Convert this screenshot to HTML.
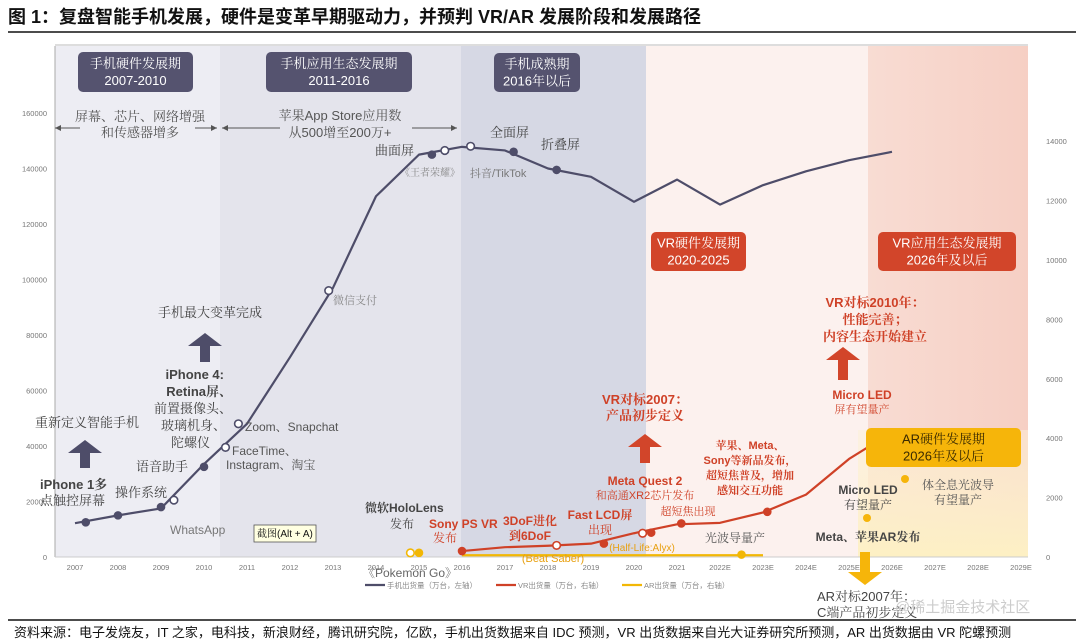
<!DOCTYPE html>
<html><head><meta charset="utf-8">
<style>
html,body{margin:0;padding:0;background:#fff;}
svg{display:block;font-family:"Liberation Sans","Noto Sans CJK SC",sans-serif;}
.sf{font-family:"Liberation Sans","Noto Serif CJK SC",serif;}
</style></head>
<body>
<svg id="chart" width="1080" height="644" viewBox="0 0 1080 644" xmlns="http://www.w3.org/2000/svg">
<defs>
<linearGradient id="gPink" x1="0" x2="1" y1="0" y2="0"><stop offset="0" stop-color="#f8dcd3"/><stop offset="1" stop-color="#f6cfc4"/></linearGradient>
<linearGradient id="gYel" x1="0" x2="0" y1="0" y2="1"><stop offset="0" stop-color="#fdf1d6" stop-opacity="0.5"/><stop offset="1" stop-color="#fdf0c4"/></linearGradient>
</defs>
<text x="8" y="23" font-size="18" font-weight="bold" fill="#111">图 1：复盘智能手机发展，硬件是变革早期驱动力，并预判 VR/AR 发展阶段和发展路径</text>
<line x1="8" y1="32" x2="1076" y2="32" stroke="#111" stroke-width="1.5"/>
<g id="bands">
<rect x="55" y="46" width="165" height="511" fill="#ededf3"/>
<rect x="220" y="46" width="241" height="511" fill="#e4e4ec"/>
<rect x="461" y="46" width="185" height="511" fill="#d6d8e4"/>
<rect x="646" y="46" width="222" height="511" fill="#fcf1ee"/>
<rect x="868" y="46" width="160" height="511" fill="url(#gPink)"/>
<rect x="858" y="430" width="170" height="127" fill="url(#gYel)"/>
</g>
<line x1="55" y1="45" x2="1028" y2="45" stroke="#bbb" stroke-width="1"/>
<line x1="55" y1="46" x2="55" y2="557" stroke="#aaa" stroke-width="1"/>
<line x1="55" y1="557" x2="1028" y2="557" stroke="#ccc" stroke-width="1"/>
<g id="axes"></g>
<g id="series"></g>
<g id="annot" class="sf"></g>
</svg>
<script>
const NS="http://www.w3.org/2000/svg";
const svg=document.getElementById('chart');
const axesG=document.getElementById('axes');
const seriesG=document.getElementById('series');
const annG=document.getElementById('annot');

const xLabels=["2007","2008","2009","2010","2011","2012","2013","2014","2015","2016","2017","2018","2019","2020","2021","2022E","2023E","2024E","2025E","2026E","2027E","2028E","2029E"];
const leftTicks=[0,20000,40000,60000,80000,100000,120000,140000,160000];
const rightTicks=[0,2000,4000,6000,8000,10000,12000,14000];
const phoneYears=[2007,2008,2009,2010,2011,2012,2013,2014,2015,2016,2017,2018,2019,2020,2021,2022,2023,2024,2025,2026];
const phoneValues=[12200,15000,17500,33500,48000,72000,97000,130000,145000,147800,146500,140000,137000,128000,136000,127000,134000,139000,143000,146000];
const phoneMarkerYears=[2007.25,2008,2009,2009.3,2010,2010.5,2010.8,2012.9,2015.3,2015.6,2016.2,2017.2,2018.2];
const phoneMarkerValues=[12500,15000,18000,20500,32500,39500,48000,96000,145000,146500,148000,146000,139500];
const phoneMarkerOpen=[0,0,0,1,0,1,1,1,0,1,1,0,0];
const vrYears=[2016,2017,2018,2019,2020,2021,2022,2023,2024,2025,2026];
const vrValues=[200,330,380,450,800,1100,1150,1500,2100,3300,4200];
const vrMarkerYears=[2016,2018.2,2019.3,2020.2,2020.4,2021.1,2023.1,2025.5];
const vrMarkerValues=[200,390,450,800,820,1130,1520,3700];
const vrMarkerOpen=[0,1,0,1,0,0,0,0];
const arYears=[2016,2017,2018,2019,2020,2021,2022,2023];
const arValues=[60,60,60,60,60,60,60,60];
const arMarkerYears=[2014.8,2015,2022.5];
const arMarkerValues=[140,140,80];
const arMarkerOpen=[1,0,0];

function xS(y){return 75+(y-2007)*43;}
function yL(v){return 557-v*(444/160000);}
function yR(v){return 557-v*(59.4/2000);}
function mk(tag,attrs,parent){const e=document.createElementNS(NS,tag);for(const k in attrs)e.setAttribute(k,attrs[k]);parent.appendChild(e);return e;}

xLabels.forEach((l,i)=>{const t=mk('text',{x:xS(2007+i),y:570,'font-size':7.5,fill:'#777','text-anchor':'middle'},axesG);t.textContent=l;

});
leftTicks.forEach(v=>{const t=mk('text',{x:47,y:yL(v)+3,'font-size':7.5,fill:'#777','text-anchor':'end'},axesG);t.textContent=String(v);

});
rightTicks.forEach(v=>{const t=mk('text',{x:1046,y:yR(v)+3,'font-size':7.5,fill:'#777','text-anchor':'start'},axesG);t.textContent=String(v);

});

function line(xs,vs,yf,color,name){const p=mk('polyline',{points:xs.map((y,i)=>xS(y)+','+yf(vs[i])).join(' '),fill:'none',stroke:color,'stroke-width':2.2,'stroke-linejoin':'round'},seriesG);

}
function markers(xs,vs,open,yf,color,name){xs.forEach((y,i)=>{const c=mk('circle',{cx:xS(y),cy:yf(vs[i]),r:open[i]?3.8:3.5,fill:open[i]?'#fff':color,stroke:color,'stroke-width':1.6},seriesG);

});}
line(phoneYears,phoneValues,yL,'#4e4d69','phone-shipments-line');
markers(phoneMarkerYears,phoneMarkerValues,phoneMarkerOpen,yL,'#4e4d69','phone-milestone-marker');
line(arYears,arValues,yR,'#f2b705','ar-shipments-line');
markers(arMarkerYears,arMarkerValues,arMarkerOpen,yR,'#f2b705','ar-milestone-marker');
line(vrYears,vrValues,yR,'#cf4127','vr-shipments-line');
markers(vrMarkerYears,vrMarkerValues,vrMarkerOpen,yR,'#cf4127','vr-milestone-marker');

const leg=[[365,'#4e4d69','手机出货量（万台，左轴）'],[496,'#cf4127','VR出货量（万台，右轴）'],[622,'#f2b705','AR出货量（万台，右轴）']];
leg.forEach(l=>{const g=mk('g',{},axesG);


mk('line',{x1:l[0],y1:585,x2:l[0]+20,y2:585,stroke:l[1],'stroke-width':2.2},g);
const t=mk('text',{x:l[0]+22,y:588,'font-size':7.5,fill:'#888'},g);t.textContent=l[2];});

function box(x,y,w,h,fill,l1,l2,tc,name){const g=mk('g',{},annG);


mk('rect',{x:x,y:y,width:w,height:h,rx:5,fill:fill},g);
const a=mk('text',{x:x+w/2,y:y+h/2-4,'font-size':13,fill:tc,'text-anchor':'middle'},g);a.textContent=l1;
const b=mk('text',{x:x+w/2,y:y+h/2+13,'font-size':13,fill:tc,'text-anchor':'middle'},g);b.textContent=l2;}
box(78,52,115,40,'#55536f','手机硬件发展期','2007-2010','#fff','box-phone-hw');
box(266,52,146,40,'#55536f','手机应用生态发展期','2011-2016','#fff','box-phone-app');
box(494,53,86,39,'#55536f','手机成熟期','2016年以后','#fff','box-phone-mature');
box(651,232,95,39,'#d2452a','VR硬件发展期','2020-2025','#fff','box-vr-hw');
box(878,232,138,39,'#d2452a','VR应用生态发展期','2026年及以后','#fff','box-vr-app');
box(866,428,155,39,'#f6b50a','AR硬件发展期','2026年及以后','#3a2a00','box-ar-hw');

const T=[
[140,121,'屏幕、芯片、网络增强',13,'#555','middle'],[140,137,'和传感器增多',13,'#555','middle'],
[340,120,'苹果App Store应用数',13,'#555','middle'],[340,137,'从500增至200万+',13,'#555','middle'],
[375,155,'曲面屏',13,'#444','start'],[400,176,'《王者荣耀》',10,'#888','start'],
[490,137,'全面屏',13,'#444','start'],[541,149,'折叠屏',13,'#444','start'],[470,177,'抖音/TikTok',11,'#777','start'],
[333,304,'微信支付',11,'#888','start'],
[210,317,'手机最大变革完成',13,'#444','middle'],
[224,379,'iPhone 4:',13,'#444','end',1],[232,396,'Retina屏、',13,'#444','end',1],[232,413,'前置摄像头、',13,'#444','end'],[226,430,'玻璃机身、',13,'#444','end'],[210,447,'陀螺仪',13,'#444','end'],
[245,431,'Zoom、Snapchat',12,'#555','start'],[232,455,'FaceTime、',12,'#555','start'],[226,469,'Instagram、淘宝',12,'#555','start'],
[136,471,'语音助手',13,'#444','start'],[35,427,'重新定义智能手机',13,'#444','start'],
[40,489,'iPhone 1多',13,'#444','start',1],[40,505,'点触控屏幕',13,'#444','start'],[115,497,'操作系统',13,'#444','start'],
[170,534,'WhatsApp',12,'#777','start'],
[365,512,'微软HoloLens',12,'#444','start',1],[390,528,'发布',12,'#444','start'],
[429,528,'Sony PS VR',12,'#cf4127','start',1],[433,542,'发布',12,'#cf4127','start'],
[530,525,'3DoF进化',12,'#cf4127','middle',1],[530,540,'到6DoF',12,'#cf4127','middle',1],
[600,519,'Fast LCD屏',12,'#cf4127','middle',1],[600,534,'出现',12,'#cf4127','middle'],
[645,485,'Meta Quest 2',12,'#cf4127','middle',1],[645,499,'和高通XR2芯片发布',11,'#cf4127','middle'],
[688,515,'超短焦出现',11,'#cf4127','middle'],
[750,449,'苹果、Meta、',11,'#cf4127','middle',1],[750,464,'Sony等新品发布，',11,'#cf4127','middle',1],[750,479,'超短焦普及，增加',11,'#cf4127','middle',1],[750,494,'感知交互功能',11,'#cf4127','middle',1],
[735,542,'光波导量产',12,'#555','middle'],
[553,562,'(Beat Saber)',11,'#e8a010','middle'],[642,551,'(Half-Life:Alyx)',10,'#e8a010','middle'],
[410,577,'《Pokemon Go》',12,'#666','middle'],
[645,404,'VR对标2007：',13,'#cf4127','middle',1],[645,420,'产品初步定义',13,'#cf4127','middle',1],
[875,307,'VR对标2010年：',13,'#cf4127','middle',1],[875,324,'性能完善；',13,'#cf4127','middle',1],[875,341,'内容生态开始建立',13,'#cf4127','middle',1],
[862,399,'Micro LED',12,'#cf4127','middle',1],[862,413,'屏有望量产',11,'#cf4127','middle'],
[868,494,'Micro LED',12,'#444','middle',1],[868,509,'有望量产',12,'#444','middle'],
[868,541,'Meta、苹果AR发布',12,'#444','middle',1],
[958,489,'体全息光波导',12,'#555','middle'],[958,504,'有望量产',12,'#555','middle'],
[817,601,'AR对标2007年：',13,'#444','start'],[817,617,'C端产品初步定义',13,'#444','start']
];
T.forEach(a=>{const t=mk('text',{x:a[0],y:a[1],'font-size':a[3],fill:a[4],'text-anchor':a[5]},annG);if(a[6])t.setAttribute('font-weight','bold');t.textContent=a[2];

});

[[867,518],[905,479]].forEach(p=>{const c=mk('circle',{cx:p[0],cy:p[1],r:4,fill:'#f6b50a'},annG);

});

function arrow(cx,top,bot,color,down,name){const w=10,hw=17,hh=13;let d;
if(!down)d=`M${cx} ${top} L${cx+hw} ${top+hh} L${cx+w/2} ${top+hh} L${cx+w/2} ${bot} L${cx-w/2} ${bot} L${cx-w/2} ${top+hh} L${cx-hw} ${top+hh} Z`;
else d=`M${cx} ${bot} L${cx+hw} ${bot-hh} L${cx+w/2} ${bot-hh} L${cx+w/2} ${top} L${cx-w/2} ${top} L${cx-w/2} ${bot-hh} L${cx-hw} ${bot-hh} Z`;
const p=mk('path',{d:d,fill:color},annG);

}
arrow(205,333,362,'#4e4d69',false,'arrow-phone-revolution');
arrow(85,440,468,'#4e4d69',false,'arrow-redefine-phone');
arrow(645,434,463,'#d2452a',false,'arrow-vr-2007');
arrow(843,347,380,'#d2452a',false,'arrow-vr-2010');
arrow(865,552,585,'#f6b50a',true,'arrow-ar-2007');

function harr(x1,x2,y,name){const g=mk('g',{},annG);


mk('line',{x1:x1,y1:y,x2:x2,y2:y,stroke:'#555','stroke-width':1},g);
const d=x2>x1?`M${x2} ${y} l-6 -3 l0 6 Z`:`M${x2} ${y} l6 -3 l0 6 Z`;mk('path',{d:d,fill:'#555'},g);}
harr(80,55,128,'span-arrow-left-1');harr(195,217,128,'span-arrow-right-1');
harr(280,222,128,'span-arrow-left-2');harr(412,457,128,'span-arrow-right-2');

const tip=mk('g',{},annG);


mk('rect',{x:254,y:525,width:62,height:17,fill:'#ffffe1',stroke:'#555','stroke-width':0.8},tip);
const tt=mk('text',{x:257,y:537,'font-size':10,fill:'#111'},tip);tt.textContent='截图(Alt + A)';

const fr=mk('line',{x1:8,y1:620,x2:1076,y2:620,stroke:'#111','stroke-width':1.5},svg);


const src=mk('text',{x:14,y:637,'font-size':13,fill:'#111'},svg);


src.textContent='资料来源：电子发烧友，IT 之家，电科技，新浪财经，腾讯研究院，亿欧，手机出货数据来自 IDC 预测，VR 出货数据来自光大证券研究所预测，AR 出货数据由 VR 陀螺预测';
const wm=mk('text',{x:895,y:612,'font-size':15,fill:'#ccc'},svg);


wm.textContent='@稀土掘金技术社区';
</script>
</body></html>
